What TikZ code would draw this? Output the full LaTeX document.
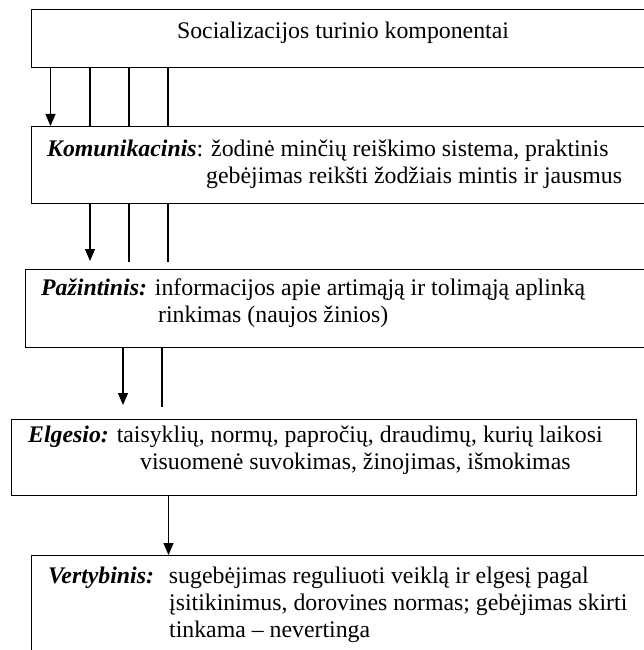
\documentclass[tikz,border=0pt]{standalone}
\usepackage{fontspec}
\setmainfont{Liberation Serif}
\usetikzlibrary{arrows.meta}

\begin{document}
\begin{tikzpicture}[
      x=1pt, y=-1pt,
      every node/.style={inner sep=0pt},
      box/.style={draw, line width=1.1pt, anchor=north west},
      txt/.style={anchor=base west, align=left, font=\fontsize{23.8}{27}\selectfont},
      link/.style={draw, line width=1.1pt},
      >={Triangle[length=12pt, width=10pt]}
    ]
      \useasboundingbox (0,0) rectangle (644,650);
      % boxes
      \node[box, minimum width=640pt, minimum height=58pt] (soc) at (31,9) {};
      \node[box, minimum width=640pt, minimum height=77pt] (kom) at (31,126) {};
      \node[box, minimum width=640pt, minimum height=78pt] (paz) at (25,269) {};
      \node[box, minimum width=625pt, minimum height=76pt] (elg) at (11,419) {};
      \node[box, minimum width=640pt, minimum height=120pt] (ver) at (31,555) {};
      % texts (base = last line)
      \node[txt, anchor=base] (soc-t) at (343,39) {Socializacijos turinio komponentai};
      \node[txt] (kom-t) at (47,183)
        {\textbf{\textit{Komunikacinis}}: žodinė minčių reiškimo sistema, praktinis\\
         \hspace*{159pt}gebėjimas reikšti žodžiais mintis ir jausmus};
      \node[txt] (paz-t) at (41,322)
        {\textbf{\textit{Pažintinis:}} informacijos apie artimąją ir tolimąją aplinką\\
         \hspace*{117pt}rinkimas (naujos žinios)};
      \node[txt] (elg-t) at (28,469)
        {\textbf{\textit{Elgesio:}} taisyklių, normų, papročių, draudimų, kurių laikosi\\
         \hspace*{112pt}visuomenė suvokimas, žinojimas, išmokimas};
      \node[txt] (ver-t) at (48,637)
        {\textbf{\textit{Vertybinis:}}\hspace{15pt}sugebėjimas reguliuoti veiklą ir elgesį pagal\\
         \hspace*{121pt}įsitikinimus, dorovines normas; gebėjimas skirti\\
         \hspace*{121pt}tinkama -- nevertinga};
      % connectors
      \draw[link, ->] (soc.south -| 50.5,0) -- (kom.north -| 50.5,0);
      \foreach \x in {90,129,168}
        \draw[link] (soc.south -| \x,0) -- (kom.north -| \x,0);
      \draw[link, ->, shorten >=8pt] (kom.south -| 90,0) -- (paz.north -| 90,0);
      \foreach \x in {129,168}
        \draw[link, shorten >=7pt] (kom.south -| \x,0) -- (paz.north -| \x,0);
      \draw[link, ->, shorten >=14pt] (paz.south -| 123,0) -- (elg.north -| 123,0);
      \draw[link, shorten >=12pt] (paz.south -| 162,0) -- (elg.north -| 162,0);
      \draw[link, ->] (elg.south -| 168.5,0) -- (ver.north -| 168.5,0);
\end{tikzpicture}
\end{document}
